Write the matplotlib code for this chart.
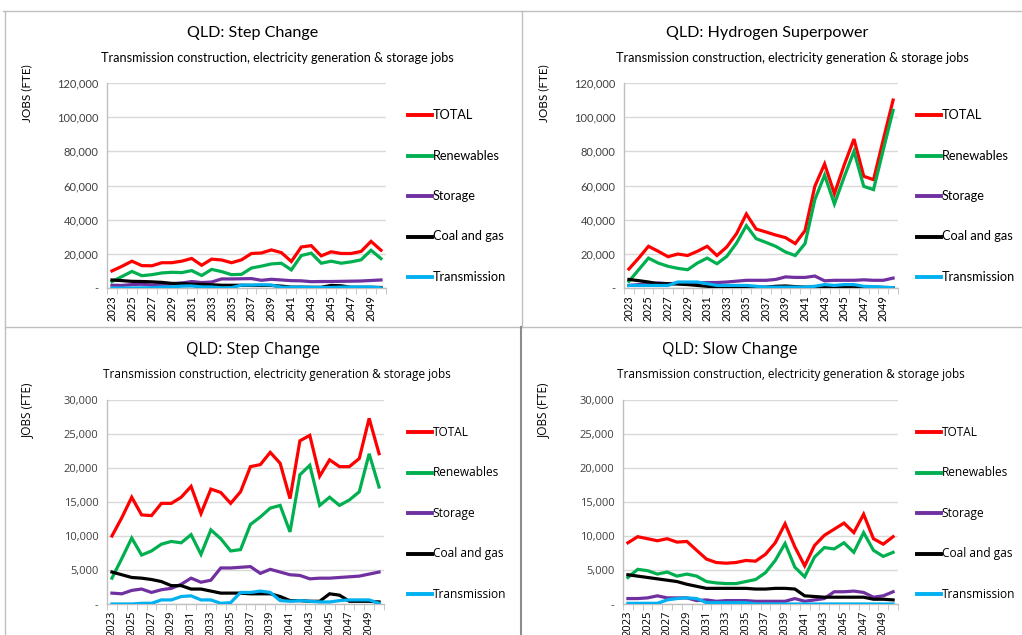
import matplotlib
matplotlib.use("Agg")
import matplotlib.pyplot as plt
from matplotlib.lines import Line2D
from matplotlib.ticker import FuncFormatter, FixedLocator
import numpy as np

years = list(range(2023, 2051))
series_names = ["TOTAL", "Renewables", "Storage", "Coal and gas", "Transmission"]
colors = ["#ff0000", "#00b050", "#7030a0", "#000000", "#00b0f0"]

# Step Change (same data in two panels)
step_total = [10000, 12700, 15700, 13100, 13000, 14800, 14800, 15700, 17300, 13300,
              16900, 16400, 14800, 16500, 20200, 20500, 22300, 20700, 15500, 24000,
              24800, 18800, 21200, 20200, 20200, 21400, 27300, 22100]
step_renew = [3800, 6700, 9700, 7200, 7800, 8800, 9200, 9000, 10200, 7300,
              10900, 9600, 7800, 8000, 11700, 12800, 14100, 14500, 10600, 19000,
              20400, 14500, 15700, 14500, 15300, 16500, 22100, 17200]
step_storage = [1600, 1500, 2000, 2200, 1700, 2100, 2300, 2900, 3800, 3200,
                3500, 5300, 5300, 5400, 5500, 4500, 5100, 4700, 4300, 4200,
                3700, 3800, 3800, 3900, 4000, 4100, 4400, 4700]
step_coal = [4700, 4300, 3900, 3800, 3600, 3300, 2700, 2700, 2200, 2200,
             1900, 1600, 1600, 1600, 1500, 1500, 1500, 1100, 500, 500,
             400, 400, 1500, 1300, 400, 400, 400, 300]
step_trans = [0, 0, 0, 100, 100, 600, 600, 1100, 1200, 600,
              600, 100, 200, 1700, 1700, 1900, 1700, 500, 400, 500,
              400, 300, 300, 500, 600, 600, 600, 100]

# Hydrogen Superpower
hyd_total = [11100, 17500, 24400, 21500, 18300, 19900, 19000, 21500, 24400, 19000,
             24000, 31800, 43300, 34500, 32800, 31000, 29500, 26000, 33600, 59500,
             72600, 55200, 72000, 87200, 65400, 63400, 87000, 110000]
hyd_renew = [3900, 10700, 17500, 14600, 12700, 11500, 10700, 14600, 17500, 14200,
             18500, 26300, 36500, 28900, 26700, 24400, 21100, 19000, 26000, 51700,
             66100, 49200, 65000, 80000, 59500, 57600, 81000, 104000]
hyd_storage = [1500, 2000, 2500, 3000, 2500, 2800, 3000, 3000, 3200, 3200,
               3500, 4000, 4500, 4500, 4500, 5000, 6500, 6200, 6200, 7000,
               4200, 4500, 4500, 4500, 4800, 4500, 4500, 5800]
hyd_coal = [5000, 4300, 3500, 2500, 2500, 2300, 2000, 1500, 1000, 500,
            500, 500, 500, 500, 500, 1000, 1200, 800, 500, 500,
            800, 800, 800, 1000, 500, 500, 300, 200]
hyd_trans = [1500, 1500, 1500, 1500, 1500, 3500, 3500, 3500, 2500, 1500,
             1500, 1500, 1500, 1000, 500, 500, 500, 500, 500, 1000,
             2000, 1500, 2000, 2000, 1000, 800, 500, 200]

# Slow Change
slow_total = [9000, 9900, 9600, 9300, 9600, 9100, 9200, 7900, 6600, 6100,
              6000, 6100, 6400, 6300, 7300, 9000, 11800, 8400, 5600, 8600,
              10100, 11000, 11900, 10500, 13200, 9600, 8800, 9900]
slow_renew = [3900, 5100, 4900, 4400, 4700, 4100, 4400, 4100, 3300, 3100,
              3000, 3000, 3300, 3600, 4600, 6400, 8900, 5400, 4000, 6900,
              8300, 8100, 9000, 7600, 10500, 7900, 7000, 7600]
slow_storage = [800, 800, 900, 1200, 900, 900, 900, 500, 600, 400,
                500, 500, 500, 400, 400, 400, 400, 800, 400, 600,
                800, 1800, 1800, 1900, 1700, 1000, 1200, 1800]
slow_coal = [4300, 4100, 3900, 3700, 3500, 3300, 2900, 2600, 2300, 2300,
             2300, 2300, 2300, 2200, 2200, 2300, 2300, 2200, 1200, 1100,
             1000, 1000, 1000, 1000, 1000, 700, 700, 600]
slow_trans = [100, 100, 100, 100, 600, 800, 900, 800, 200, 200,
              200, 200, 200, 0, 0, 0, 0, 0, 0, 0,
              0, 0, 0, 0, 0, 0, 0, 0]

subtitle = "Transmission construction, electricity generation & storage jobs"

W, H = 1022, 635
fig = plt.figure(figsize=(W / 100, H / 100), dpi=100)
fig.patch.set_facecolor("white")


def fx(px):
    return px / W


def fy(py):
    return 1 - py / H


def panel(box, title, title_x, sub_x, top, data, ymax, ystep, leg_x, font, sizes):
    title_fs, sub_fs, leg_fs = sizes
    left, right, ax_top, ax_bot = box
    ax = fig.add_axes([fx(left), fy(ax_bot), fx(right - left), (ax_bot - ax_top) / H])
    x = np.arange(len(years))
    for vals, c in zip(data, colors):
        ax.plot(x, vals, color=c, lw=2.3, solid_joinstyle="miter", zorder=3)
    ax.set_xlim(-0.5, len(years) - 0.5)
    ax.set_ylim(0, ymax)
    ax.set_yticks(np.arange(0, ymax + 1, ystep))
    ax.yaxis.set_major_formatter(FuncFormatter(lambda v, p: "-" if v == 0 else f"{v:,.0f}"))
    ax.grid(axis="y", color="#d9d9d9", lw=1)
    ax.set_axisbelow(True)
    for s in ["top", "right"]:
        ax.spines[s].set_visible(False)
    for s in ["left", "bottom"]:
        ax.spines[s].set_color("#bfbfbf")
        ax.spines[s].set_linewidth(1)
    ax.xaxis.set_major_locator(FixedLocator(x[::2]))
    ax.set_xticklabels([str(y) for y in years[::2]], rotation=90)
    ax.xaxis.set_minor_locator(FixedLocator(np.arange(-0.5, len(years), 1)))
    ax.tick_params(axis="x", which="major", length=0, pad=5, labelsize=8, labelcolor="#000000")
    ax.tick_params(axis="x", which="minor", length=4, color="#bfbfbf", direction="out")
    ax.tick_params(axis="y", length=0, pad=6, labelsize=8, labelcolor="#404040")
    for lab in ax.get_xticklabels() + ax.get_yticklabels():
        lab.set_family(font)

    fig.text(fx(title_x), fy(top + 22), title, ha="center", va="center",
             fontsize=title_fs, family=font, color="#000000")
    fig.text(fx(sub_x), fy(top + 47), subtitle, ha="center", va="center",
             fontsize=sub_fs, family=font, color="#000000")
    fig.text(fx(left - 80), fy(top + 82), "JOBS (FTE)", rotation=90, ha="center",
             va="center", fontsize=8.5, family=font, color="#000000")

    # legend
    for i, (name, c) in enumerate(zip(series_names, colors)):
        ly = top + 104 + 40.5 * i
        fig.add_artist(Line2D([fx(leg_x), fx(leg_x + 24)], [fy(ly), fy(ly)],
                              color=c, lw=2.8))
        fig.text(fx(leg_x + 24.5), fy(ly), name, ha="left", va="center",
                 fontsize=leg_fs, family=font, color="#000000")
    return ax


step = [step_total, step_renew, step_storage, step_coal, step_trans]
hyd = [hyd_total, hyd_renew, hyd_storage, hyd_coal, hyd_trans]
slow = [slow_total, slow_renew, slow_storage, slow_coal, slow_trans]

top_font = "Lato"
bot_font = "Open Sans"
top_sizes = (11.6, 9.1, 9.2)
bot_sizes = (11.5, 8.45, 8.6)

panel((107, 386, 83, 288), "QLD: Step Change", 253, 277, 11, step, 120000, 20000, 408,
      top_font, top_sizes)
panel((624, 898, 83, 288), "QLD: Hydrogen Superpower", 767, 792, 11, hyd, 120000, 20000, 917,
      top_font, top_sizes)
panel((107, 384, 400, 604), "QLD: Step Change", 253, 277, 328, step, 30000, 5000, 408,
      bot_font, bot_sizes)
panel((623, 898, 400, 604), "QLD: Slow Change", 730, 791, 328, slow, 30000, 5000, 917,
      bot_font, bot_sizes)

# panel borders
border = "#bfbfbf"
fig.add_artist(Line2D([fx(3), fx(1022)], [fy(11), fy(11)], color=border, lw=1))
fig.add_artist(Line2D([fx(5), fx(1022)], [fy(327), fy(327)], color=border, lw=1))
fig.add_artist(Line2D([fx(5), fx(5)], [fy(11), fy(635)], color=border, lw=1))
fig.add_artist(Line2D([fx(522), fx(522)], [fy(11), fy(327)], color=border, lw=1))
fig.add_artist(Line2D([fx(521), fx(521)], [fy(327), fy(635)], color="#8c8c8c", lw=1.5))

fig.savefig("out.png", dpi=100)
